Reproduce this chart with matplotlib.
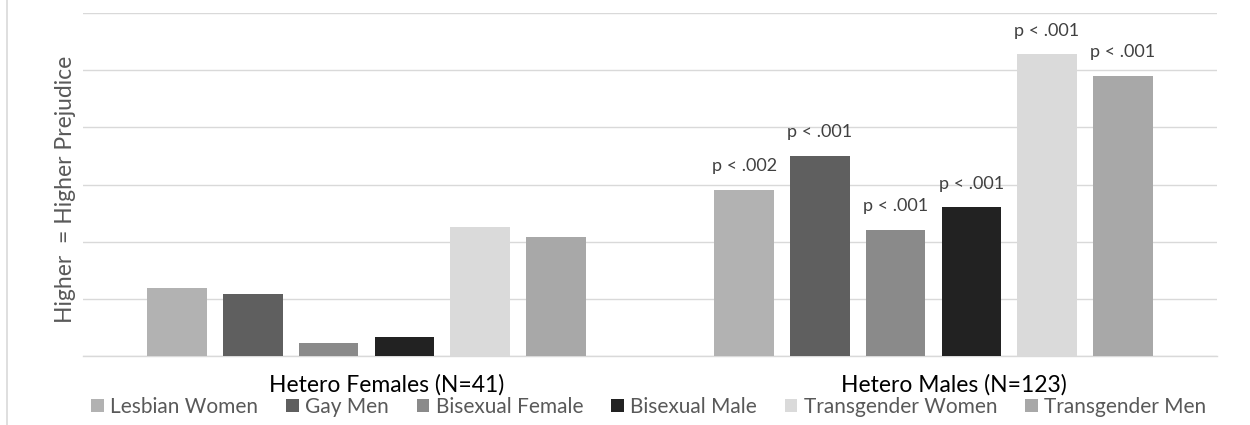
import matplotlib
matplotlib.use("Agg")
import matplotlib.pyplot as plt
import matplotlib.transforms as mtransforms
import numpy as np
from matplotlib.lines import Line2D

plt.rcParams["font.family"] = ["Lato", "DejaVu Sans"]

# data (units = gridline steps)
groups = ["Hetero Females (N=41)", "Hetero Males (N=123)"]
series = ["Lesbian Women", "Gay Men", "Bisexual Female", "Bisexual Male",
          "Transgender Women", "Transgender Men"]
females = [1.19, 1.09, 0.22, 0.32, 2.25, 2.08]
males = [2.91, 3.50, 2.21, 2.60, 5.28, 4.91]
male_p = ["p < .002", "p < .001", "p < .001", "p < .001", "p < .001", "p < .001"]
colors = ["#b2b2b2", "#5f5f5f", "#8a8a8a", "#222222", "#dadada", "#a8a8a8"]

fig = plt.figure(figsize=(12.5, 4.25), dpi=100)
ax = fig.add_axes([0.0664, 0.163, 0.9072, 0.8057])

x = np.arange(len(groups))
step = 0.1335
width = 0.105
for i, name in enumerate(series):
    vals = [females[i], males[i]]
    xs = x + (i - 2.5) * step
    ax.bar(xs, vals, width=width, color=colors[i], label=name, zorder=3)
    # p-values only shown for the males group
    ax.annotate(male_p[i], (xs[1], males[i]), xytext=(0, 17), textcoords="offset points",
                ha="center", va="center", fontsize=13, color="#404040")

ax.set_xlim(-0.5, 1.5)
ax.set_ylim(0, 6)
ax.set_yticks(np.arange(0, 7))
ax.set_yticklabels([])
ax.tick_params(axis="y", length=0)
ax.grid(axis="y", color="#d9d9d9", linewidth=1.0, zorder=0)
ax.set_xticks(x)
ax.set_xticklabels(groups, fontsize=16.5, color="#000000")
ax.tick_params(axis="x", length=0, pad=13)
# category labels sit a little right of the group centre in the original
shift = mtransforms.ScaledTranslation(0.2, 0, fig.dpi_scale_trans)
for lbl in ax.get_xticklabels():
    lbl.set_transform(lbl.get_transform() + shift)
for s in ["top", "right", "left"]:
    ax.spines[s].set_visible(False)
ax.spines["bottom"].set_color("#d9d9d9")
ax.spines["bottom"].set_linewidth(1.0)

ax.set_ylabel("Higher  = Higher Prejudice", fontsize=16.5, color="#595959")
ax.yaxis.set_label_coords(-0.006, 0.485)

leg = fig.legend(loc="center", bbox_to_anchor=(0.519, 18 / 425), ncol=6, frameon=False,
                 fontsize=15, handlelength=0.6, handleheight=0.6, handletextpad=0.3,
                 columnspacing=1.35, borderaxespad=0)
for t in leg.get_texts():
    t.set_color("#595959")

# left chart border
fig.add_artist(Line2D([0.0056, 0.0056], [0, 1], transform=fig.transFigure,
                      color="#d9d9d9", linewidth=1.2))

fig.savefig("out.png", dpi=100)
